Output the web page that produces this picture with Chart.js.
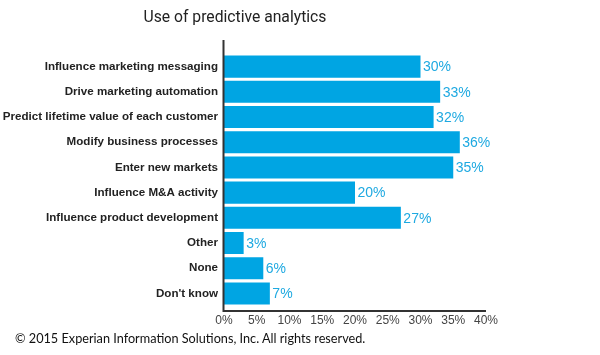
<!DOCTYPE html>
<html>
<head>
<meta charset="utf-8">
<script src="https://cdn.jsdelivr.net/npm/chart.js@4"></script>
<style>
  html, body { margin:0; padding:0; background:#fff; }
  #wrap { position:relative; width:600px; height:355px; }
  #title { position:absolute; left:0; top:7px; width:470px; text-align:center; font-family:Roboto, "Liberation Sans", sans-serif; font-size:15.7px; color:#222; }
  #copy { position:absolute; left:15px; top:330px; font-family:Lato, "Open Sans", sans-serif; font-size:12.7px; color:#111; white-space:nowrap; }
  canvas { position:absolute; left:0; top:0; }
</style>
</head>
<body>
<div id="wrap">
  <canvas id="c" width="600" height="355"></canvas>
  <div id="title">Use of predictive analytics</div>
  <div id="copy">© 2015 Experian Information Solutions, Inc. All rights reserved.</div>
</div>
<script>
const categories = [
  "Influence marketing messaging",
  "Drive marketing automation",
  "Predict lifetime value of each customer",
  "Modify business processes",
  "Enter new markets",
  "Influence M&A activity",
  "Influence product development",
  "Other",
  "None",
  "Don't know"
];
const values = [30, 33, 32, 36, 35, 20, 27, 3, 6, 7];
const xTicks = [0, 5, 10, 15, 20, 25, 30, 35, 40];

const BAR = '#00a5e3';
const LABEL = '#1ea9e1';
const AXIS = '#333333';

const axisLines = {
  id: 'axisLines',
  afterDraw(chart) {
    const {ctx, chartArea} = chart;
    ctx.save();
    ctx.strokeStyle = AXIS;
    ctx.lineWidth = 2;
    ctx.beginPath();
    ctx.moveTo(chartArea.left - 0.5, 40);
    ctx.lineTo(chartArea.left - 0.5, chartArea.bottom + 5);
    ctx.lineTo(chartArea.right, chartArea.bottom + 5);
    ctx.stroke();
    ctx.restore();
  }
};

const valueLabels = {
  id: 'valueLabels',
  afterDatasetsDraw(chart) {
    const {ctx} = chart;
    const meta = chart.getDatasetMeta(0);
    ctx.save();
    ctx.fillStyle = LABEL;
    ctx.font = '14px "Liberation Sans", Arial, sans-serif';
    ctx.textAlign = 'left';
    ctx.textBaseline = 'middle';
    meta.data.forEach((bar, i) => {
      ctx.fillText(values[i] + '%', bar.x + 2.5, bar.y + 1);
    });
    ctx.restore();
  }
};

new Chart(document.getElementById('c'), {
  type: 'bar',
  data: {
    labels: categories,
    datasets: [{
      data: values,
      backgroundColor: BAR,
      borderWidth: 0,
      categoryPercentage: 1,
      barPercentage: 0.875
    }]
  },
  options: {
    indexAxis: 'y',
    responsive: false,
    animation: false,
    devicePixelRatio: 1,
    layout: { padding: { left: 0, right: 114, top: 54, bottom: 0 } },
    plugins: { legend: { display: false }, tooltip: { enabled: false }, title: { display: false } },
    scales: {
      x: {
        type: 'linear',
        min: 0, max: 40,
        afterBuildTicks(scale) { scale.ticks = xTicks.map(v => ({ value: v })); },
        afterFit(scale) { scale.height = 49; },
        grid: { display: false, drawTicks: false },
        border: { display: false },
        ticks: {
          padding: 7,
          color: '#444',
          font: { family: '"Liberation Sans", Arial, sans-serif', size: 12 },
          callback: v => v + '%'
        }
      },
      y: {
        afterFit(scale) { scale.width = 224; },
        grid: { display: false, drawTicks: false },
        border: { display: false },
        ticks: {
          padding: 6,
          color: '#222',
          font: { family: '"Liberation Sans", Arial, sans-serif', size: 11.6, weight: 'bold' }
        }
      }
    }
  },
  plugins: [axisLines, valueLabels]
});
</script>
</body>
</html>
